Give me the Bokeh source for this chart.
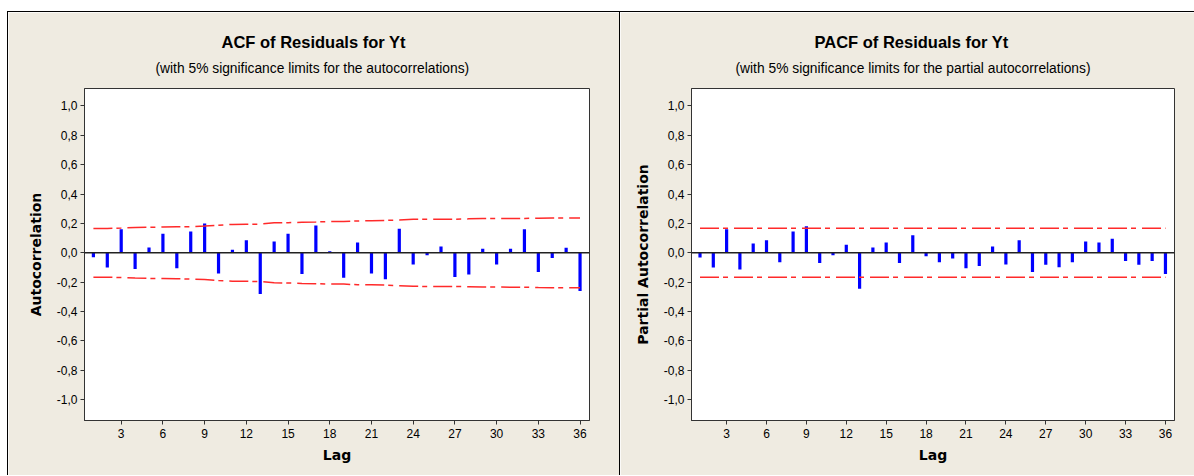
from bokeh.plotting import figure
from bokeh.layouts import row, column
from bokeh.models import Spacer, Span, FixedTicker, Title, ColumnDataSource, Range1d
from bokeh.embed import file_html
from bokeh.resources import INLINE

# ---------------- data ----------------
lags = list(range(1, 37))

acf_values = [-0.030, -0.100, 0.160, -0.110, 0.036, 0.130, -0.105, 0.145, 0.200, -0.140,
              0.020, 0.086, -0.280, 0.077, 0.130, -0.145, 0.186, 0.011, -0.170, 0.070,
              -0.140, -0.180, 0.164, -0.080, -0.016, 0.043, -0.164, -0.148, 0.027, -0.080,
              0.027, 0.160, -0.130, -0.036, 0.034, -0.260]

acf_limits = [0.166, 0.166, 0.168, 0.172, 0.174, 0.175, 0.177, 0.178, 0.182, 0.188,
              0.193, 0.194, 0.195, 0.204, 0.205, 0.208, 0.210, 0.213, 0.213, 0.217,
              0.218, 0.220, 0.224, 0.228, 0.229, 0.229, 0.229, 0.231, 0.233, 0.233,
              0.234, 0.234, 0.236, 0.237, 0.237, 0.237]

pacf_values = [-0.032, -0.100, 0.161, -0.114, 0.064, 0.086, -0.064, 0.145, 0.180, -0.070,
               -0.016, 0.055, -0.245, 0.036, 0.070, -0.070, 0.120, -0.023, -0.064, -0.039,
               -0.105, -0.089, 0.043, -0.080, 0.086, -0.130, -0.082, -0.098, -0.064, 0.077,
               0.070, 0.095, -0.055, -0.082, -0.055, -0.145]

pacf_limits = [0.167] * 36

y_ticks = [-1.0, -0.8, -0.6, -0.4, -0.2, 0.0, 0.2, 0.4, 0.6, 0.8, 1.0]
y_tick_labels = ["-1,0", "-0,8", "-0,6", "-0,4", "-0,2", "0,0", "0,2", "0,4", "0,6", "0,8", "1,0"]
x_ticks = [3, 6, 9, 12, 15, 18, 21, 24, 27, 30, 33, 36]

# ---------------- styles ----------------
BG = "#EFEBE1"
TICK_FONT = "Liberation Sans"
TEXT_FONT = "DejaVu Sans"
TITLE_FONT = "Liberation Sans"
H = 463
X0, X1 = 0.36, 36.68
Y0, Y1 = -1.141, 1.118


def make_panel(values, limits, ylabel, title, subtitle, width, min_left, min_right,
               title_off, sub_off):
    p = figure(width=width, height=H,
               x_range=Range1d(X0, X1), y_range=Range1d(Y0, Y1),
               output_backend="svg", toolbar_location=None,
               min_border_left=min_left, min_border_right=min_right,
               min_border_top=76, min_border_bottom=55)
    p.background_fill_color = "white"
    p.border_fill_color = BG
    p.outline_line_color = "#333333"
    p.outline_line_width = 1
    p.xgrid.visible = False
    p.ygrid.visible = False

    src = ColumnDataSource(dict(
        lag=lags, val=values, zero=[0.0] * len(lags),
        up=limits, lo=[-v for v in limits]))

    p.segment(x0="lag", y0="zero", x1="lag", y1="val", source=src,
              line_color="#0000FF", line_width=3.2)
    p.add_layout(Span(location=0, dimension="width", line_color="#222222", line_width=1.5))
    p.line("lag", "up", source=src, line_color="#FF2A2A", line_width=1.5, line_dash="19 4 5 6")
    p.line("lag", "lo", source=src, line_color="#FF2A2A", line_width=1.5, line_dash="19 4 5 6")

    # axes
    for ax in (p.xaxis, p.yaxis):
        ax.axis_line_color = "#333333"
        ax.major_tick_line_color = "#333333"
        ax.major_tick_out = 4
        ax.major_tick_in = 0
        ax.minor_tick_out = 0
        ax.minor_tick_in = 0
        ax.major_label_text_font = TICK_FONT
        ax.major_label_text_font_size = "12px"
        ax.major_label_text_color = "black"
        ax.axis_label_text_font = TEXT_FONT
        ax.axis_label_text_font_size = "14px"
        ax.axis_label_text_font_style = "bold"
        ax.axis_label_text_color = "black"

    p.xaxis.ticker = FixedTicker(ticks=x_ticks)
    p.xaxis.axis_label = "Lag"
    p.xaxis.major_label_standoff = 4
    p.xaxis.axis_label_standoff = 6

    p.yaxis.ticker = FixedTicker(ticks=y_ticks)
    p.yaxis.major_label_overrides = dict(zip(y_ticks, y_tick_labels))
    p.yaxis.axis_label = ylabel
    p.yaxis.major_label_standoff = 3
    p.yaxis.axis_label_standoff = 10

    sub = Title(text=subtitle, align="left", offset=sub_off, vertical_align="top",
                text_font=TITLE_FONT, text_font_size="13.8px", text_font_style="normal",
                text_color="black", standoff=21)
    p.add_layout(sub, "above")
    main = Title(text=title, align="left", offset=title_off, vertical_align="bottom",
                 text_font=TITLE_FONT, text_font_size="16.5px", text_font_style="bold",
                 text_color="black", standoff=0)
    p.add_layout(main, "above")
    return p


p1 = make_panel(acf_values, acf_limits, "Autocorrelation",
                "ACF of Residuals for Yt",
                "(with 5% significance limits for the autocorrelations)",
                width=611, min_left=76, min_right=30, title_off=137, sub_off=71)
p2 = make_panel(pacf_values, pacf_limits, "Partial Autocorrelation",
                "PACF of Residuals for Yt",
                "(with 5% significance limits for the partial autocorrelations)",
                width=574, min_left=71, min_right=20, title_off=123, sub_off=44)

black = {"background-color": "black"}
layout = column(
    Spacer(width=1194, height=11),
    row(Spacer(width=7, height=1), Spacer(width=1187, height=1, styles=black)),
    row(Spacer(width=7, height=H), Spacer(width=1, height=H, styles=black), p1,
        Spacer(width=1, height=H, styles=black), p2),
)

open("out.html", "w").write(file_html(layout, INLINE))
